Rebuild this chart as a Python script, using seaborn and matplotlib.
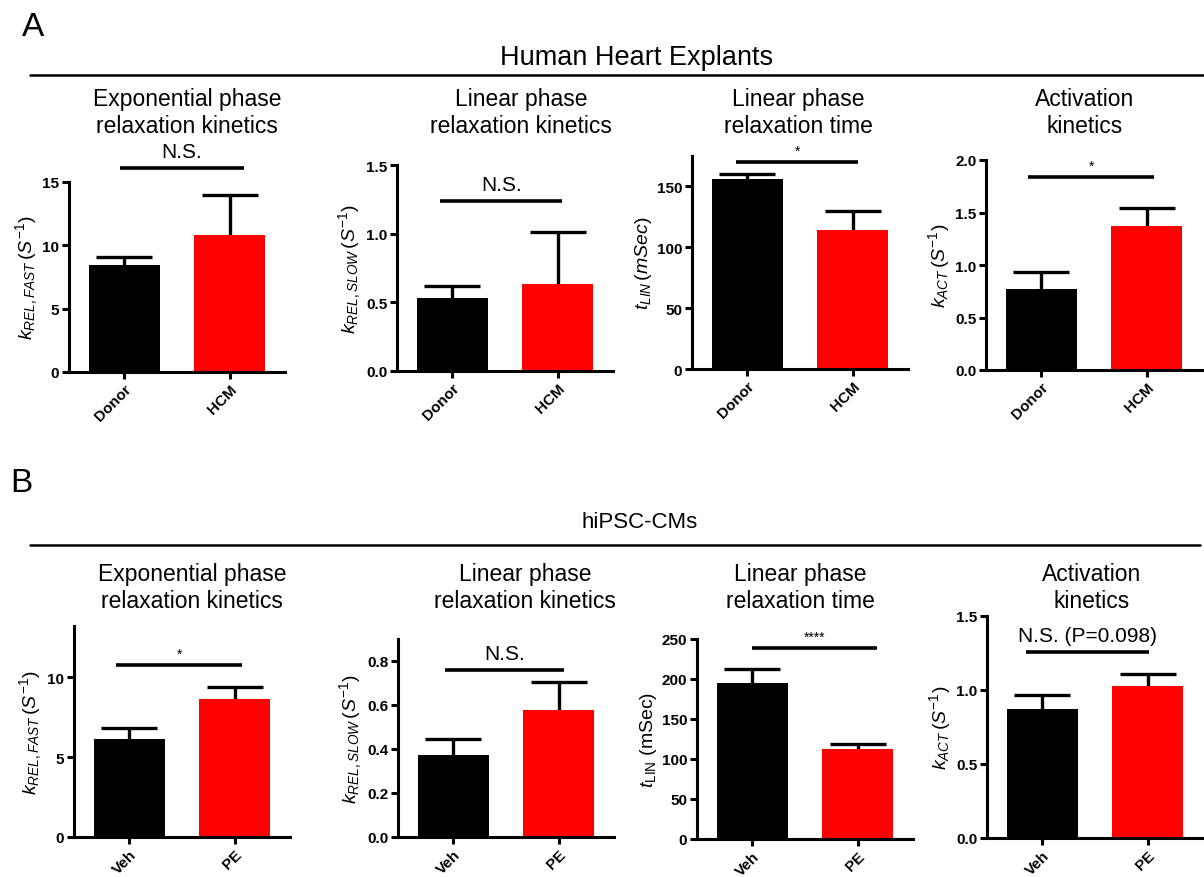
import matplotlib
matplotlib.use("Agg")
import matplotlib.pyplot as plt
import seaborn as sns

# values (bar = mean, err = SEM)
human_groups = ["Donor", "HCM"]
ipsc_groups = ["Veh", "PE"]

krel_fast_human = [8.45, 10.8]
krel_fast_human_err = [0.6, 3.2]
krel_slow_human = [0.535, 0.63]
krel_slow_human_err = [0.082, 0.38]
tlin_human = [156, 114]
tlin_human_err = [4, 16]
kact_human = [0.77, 1.375]
kact_human_err = [0.165, 0.17]

krel_fast_ipsc = [6.16, 8.66]
krel_fast_ipsc_err = [0.69, 0.74]
krel_slow_ipsc = [0.375, 0.579]
krel_slow_ipsc_err = [0.069, 0.124]
tlin_ipsc = [195, 112.5]
tlin_ipsc_err = [17.5, 6.5]
kact_ipsc = [0.874, 1.024]
kact_ipsc_err = [0.089, 0.081]

titles = ["Exponential phase\nrelaxation kinetics", "Linear phase\nrelaxation kinetics",
          "Linear phase\nrelaxation time", "Activation\nkinetics"]
sig_labels_human = ["N.S.", "N.S.", "*", "*"]
sig_labels_ipsc = ["*", "N.S.", "****", "N.S. (P=0.098)"]

sns.set_style("ticks")
plt.rcParams["font.family"] = ["Liberation Sans", "DejaVu Sans"]
plt.rcParams["mathtext.fontset"] = "custom"
plt.rcParams["mathtext.rm"] = "Liberation Sans"
plt.rcParams["mathtext.it"] = "Liberation Sans:italic"
plt.rcParams["mathtext.bf"] = "Liberation Sans:bold"
plt.rcParams["text.color"] = "black"
plt.rcParams["axes.labelcolor"] = "black"

W, H = 1204, 878
fig = plt.figure(figsize=(W / 100, H / 100), dpi=100)


def add_ax(x_spine, y_zero, y_top, width=216):
    return fig.add_axes([x_spine / W, (H - y_zero) / H, width / W, (y_zero - y_top) / H])


def panel(ax, groups, vals, errs, ylim, yticks, ytick_fmt, ylabel,
          sig_label, sig_y, sig_span):
    sns.barplot(x=groups, y=vals, hue=groups, palette=["black", "#ff0000"],
                saturation=1, width=0.67, linewidth=0, legend=False, ax=ax, zorder=2)
    # symmetric error bars drawn behind the bars, so only the upper half shows
    ax.errorbar([0, 1], vals, yerr=errs, fmt="none", ecolor="black",
                elinewidth=2.4, capsize=20, capthick=2.4, zorder=1)
    ax.set_xlim(-0.52, 1.52)
    ax.set_ylim(*ylim)
    ax.set_yticks(yticks)
    ax.set_yticklabels([ytick_fmt.format(t) for t in yticks], fontsize=11, fontweight="bold")
    ax.set_xticks([0, 1])
    ax.set_xticklabels(groups, rotation=45, ha="right", rotation_mode="anchor",
                       fontsize=11, fontweight="bold")
    ax.set_xlabel("")
    ax.set_ylabel(ylabel, fontsize=14, labelpad=2)
    sns.despine(ax=ax)
    for s in ["left", "bottom"]:
        ax.spines[s].set_linewidth(2.2)
        ax.spines[s].set_color("black")
    ax.tick_params(axis="both", width=2.2, length=5, pad=2, colors="black")
    # significance bar
    ax.plot(sig_span, [sig_y, sig_y], color="black", lw=2.6, clip_on=False,
            solid_capstyle="butt")
    small = sig_label.startswith("*")
    ax.annotate(sig_label, xy=(sum(sig_span) / 2, sig_y), xytext=(0, 3 if small else 5),
                textcoords="offset points", ha="center", va="bottom",
                fontsize=10 if small else 15, annotation_clip=False)
    return ax


# ---- row A
axes_a = [add_ax(69, 373, 183), add_ax(397, 372, 166), add_ax(692, 370, 157), add_ax(986, 371, 161)]
panel(axes_a[0], human_groups, krel_fast_human, krel_fast_human_err, (0, 15), [0, 5, 10, 15],
      "{:.0f}", r"$k_{REL,FAST}\,(S^{-1})$", sig_labels_human[0], 16.1, [-0.04, 1.13])
panel(axes_a[1], human_groups, krel_slow_human, krel_slow_human_err, (0, 1.5), [0, 0.5, 1.0, 1.5],
      "{:.1f}", r"$k_{REL,SLOW}\,(S^{-1})$", sig_labels_human[1], 1.238, [-0.11, 1.04])
panel(axes_a[2], human_groups, tlin_human, tlin_human_err, (0, 175), [0, 50, 100, 150],
      "{:.0f}", r"$t_{LIN}\,(mSec)$", sig_labels_human[2], 170.4, [-0.1, 1.05])
panel(axes_a[3], human_groups, kact_human, kact_human_err, (0, 2.0), [0, 0.5, 1.0, 1.5, 2.0],
      "{:.1f}", r"$k_{ACT}\,(S^{-1})$", sig_labels_human[3], 1.84, [-0.12, 1.07])

# ---- row B
axes_b = [add_ax(74, 838, 627), add_ax(398, 838, 640), add_ax(697, 840, 640), add_ax(987, 839, 617)]
panel(axes_b[0], ipsc_groups, krel_fast_ipsc, krel_fast_ipsc_err, (0, 13.2), [0, 5, 10],
      "{:.0f}", r"$k_{REL,FAST}\,(S^{-1})$", sig_labels_ipsc[0], 10.75, [-0.125, 1.07])
panel(axes_b[1], ipsc_groups, krel_slow_ipsc, krel_slow_ipsc_err, (0, 0.9), [0, 0.2, 0.4, 0.6, 0.8],
      "{:.1f}", r"$k_{REL,SLOW}\,(S^{-1})$", sig_labels_ipsc[1], 0.76, [-0.08, 1.05])
panel(axes_b[2], ipsc_groups, tlin_ipsc, tlin_ipsc_err, (0, 250), [0, 50, 100, 150, 200, 250],
      "{:.0f}", r"$t_{\mathrm{LIN}}$ (mSec)", sig_labels_ipsc[2], 238.7, [0.0, 1.18])
panel(axes_b[3], ipsc_groups, kact_ipsc, kact_ipsc_err, (0, 1.5), [0, 0.5, 1.0, 1.5],
      "{:.1f}", r"$k_{ACT}\,(S^{-1})$", sig_labels_ipsc[3], 1.26, [-0.15, 1.01])

# panel titles (two lines, centered over the bars)
for cx, t in zip([187, 521, 798, 1085], titles):
    fig.text(cx / W, 1 - 113 / H, t, ha="center", va="center", fontsize=16.5, linespacing=1.2)
for cx, t in zip([192, 525, 800, 1092], titles):
    fig.text(cx / W, 1 - 588 / H, t, ha="center", va="center", fontsize=16.5, linespacing=1.2)

# section headers
fig.text(22 / W, 1 - 28 / H, "A", fontsize=24, ha="left", va="center")
fig.text(637 / W, 1 - 58 / H, "Human Heart Explants", fontsize=19.5, ha="center", va="center")
fig.add_artist(plt.Line2D([30 / W, 1.0], [1 - 76 / H, 1 - 76 / H], color="black", lw=1.8))
fig.text(10 / W, 1 - 484 / H, "B", fontsize=24, ha="left", va="center")
fig.text(640 / W, 1 - 523 / H, "hiPSC-CMs", fontsize=16, ha="center", va="center")
fig.add_artist(plt.Line2D([30 / W, 1200 / W], [1 - 546 / H, 1 - 546 / H], color="black", lw=1.8))

fig.savefig("out.png", dpi=100)
